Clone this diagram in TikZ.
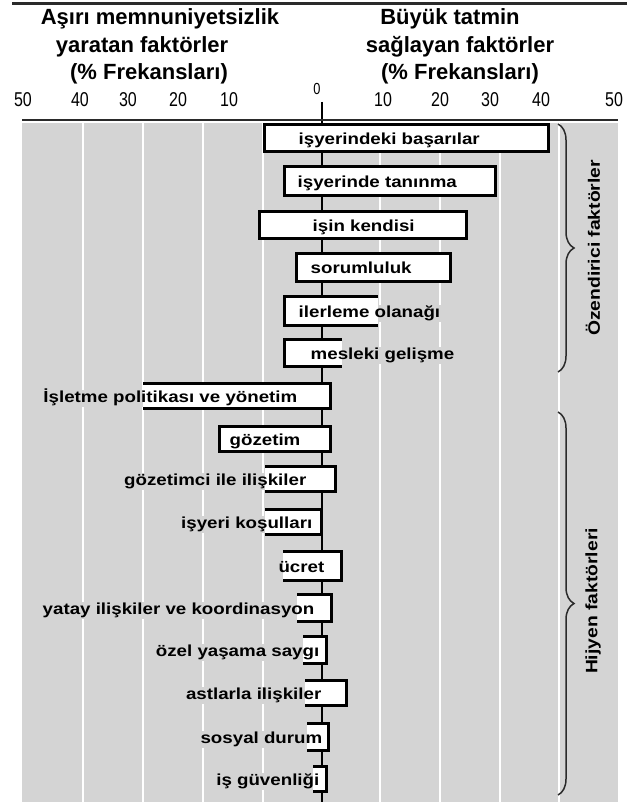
\documentclass[tikz,border=0pt]{standalone}
\usepackage{fontspec}
\setmainfont{Liberation Sans}
\newfontfamily\barfont[FakeStretch=1.17]{Liberation Sans}
\newfontfamily\numfont[FakeStretch=0.8]{Liberation Sans}
\usetikzlibrary{decorations.pathreplacing,backgrounds}
\definecolor{panel}{HTML}{D4D4D4}
\definecolor{rule}{HTML}{2A2A2A}

% bar with all four sides outlined
\newcommand\barclosed[4]{\draw[barbox] (#1+1.5,#3+1.5) rectangle (#2-1.5,#4-1.5);}
% bar whose left side is left open
\newcommand\baropenleft[4]{%
  \fill[white] (#1,#3+1.5) rectangle (#2,#4-1.5);
  \draw[barline] (#1,#3+1.5) -- (#2-1.5,#3+1.5) -- (#2-1.5,#4-1.5) -- (#1,#4-1.5);}
% bar whose right side is left open
\newcommand\baropenright[4]{%
  \fill[white] (#1,#3+1.5) rectangle (#2,#4-1.5);
  \draw[barline] (#2,#3+1.5) -- (#1+1.5,#3+1.5) -- (#1+1.5,#4-1.5) -- (#2,#4-1.5);}

\begin{document}
\begin{tikzpicture}[x=1pt,y=-1pt,
  head/.style={font=\fontsize{22}{26}\selectfont\bfseries,anchor=base,inner sep=0},
  num/.style={font=\numfont\fontsize{20}{24}\selectfont,anchor=base,inner sep=0},
  barlabel/.style={font=\barfont\bfseries\fontsize{16}{19}\selectfont,inner sep=0.5pt,
    text height=11.5pt,text depth=3.5pt,yshift=-2.5pt},
  mot/.style={barlabel,anchor=west},
  hyg/.style={barlabel,anchor=east},
  barbox/.style={line width=3pt,fill=white,draw=black},
  barline/.style={line width=3pt,draw=black},
  gridline/.style={white,line width=2.5pt},
  side/.style={font=\barfont\bfseries\fontsize{16.5}{20}\selectfont,rotate=90,inner sep=0},
  curly/.style={decorate,decoration={brace,amplitude=16pt},draw=rule,line width=1.5pt},
]
\useasboundingbox (0,0) rectangle (627,802);

% panel and grid
\begin{pgfonlayer}{background}
  \fill[panel] (22,123) rectangle (618,802);
  \foreach \gx in {83,143,203,263,380,440,500,559}
    \draw[gridline] (\gx,123) -- (\gx,802);
\end{pgfonlayer}

% top rules
\draw[rule,line width=3pt] (12,4) -- (627,4);
\draw[rule,line width=2.5pt] (22,120) -- (618,120);

% headings
\node[head] (hl1) at (160,25) {Aşırı memnuniyetsizlik};
\node[head] (hl2) at (142,53) {yaratan faktörler};
\node[head] (hl3) at (149,80) {(\% Frekansları)};
\node[head] (hr1) at (450,25) {Büyük tatmin};
\node[head] (hr2) at (460,53) {sağlayan faktörler};
\node[head] (hr3) at (460,80) {(\% Frekansları)};

% scale
\node[num] (sl50) at (23,107) {50};
\node[num] (sl40) at (80,107) {40};
\node[num] (sl30) at (128,107) {30};
\node[num] (sl20) at (178,107) {20};
\node[num] (sl10) at (229,107) {10};
\node[num,font=\numfont\fontsize{16}{19}\selectfont] (s0) at (317,95) {0};
\node[num] (sr10) at (383,107) {10};
\node[num] (sr20) at (440,107) {20};
\node[num] (sr30) at (490,107) {30};
\node[num] (sr40) at (541,107) {40};
\node[num] (sr50) at (614,107) {50};

% zero axis
\coordinate (axtop) at (322,102);
\coordinate (axbot) at (322,802);
\begin{pgfonlayer}{background}
  \draw[black,line width=2pt] (axtop) -- (axbot);
\end{pgfonlayer}

% motivator bars
\barclosed{263}{550}{123}{153}
\barclosed{283}{497}{165}{197}
\barclosed{258}{468}{210}{240}
\barclosed{295}{452}{252}{283}
\baropenright{283}{378}{295}{327}
\baropenright{283}{342}{338}{368}

% hygiene bars
\baropenleft{143}{332}{382}{410}
\barclosed{218}{332}{425}{453}
\baropenleft{265}{337}{465}{493}
\baropenleft{265}{323}{508}{536}
\baropenleft{283}{343}{550}{582}
\baropenleft{297}{333}{593}{623}
\baropenleft{303}{328}{635}{665}
\baropenleft{305}{348}{679}{707}
\baropenleft{307}{330}{722}{752}
\baropenleft{313}{328}{765}{793}

% bar labels
\node[mot] (m1) at (298,138) {işyerindeki başarılar};
\node[mot] (m2) at (297,181) {işyerinde tanınma};
\node[mot] (m3) at (312,225) {işin kendisi};
\node[mot] (m4) at (310,267) {sorumluluk};
\node[mot] (m5) at (298,311) {ilerleme olanağı};
\node[mot] (m6) at (310,353) {mesleki gelişme};

\node[hyg] (h1) at (298,396) {İşletme politikası ve yönetim};
\node[barlabel] (h2) at (265,439) {gözetim};
\node[hyg] (h3) at (307,479) {gözetimci ile ilişkiler};
\node[hyg] (h4) at (313,522) {işyeri koşulları};
\node[hyg] (h5) at (325,566) {ücret};
\node[hyg] (h6) at (315,608) {yatay ilişkiler ve koordinasyon};
\node[hyg] (h7) at (320,650) {özel yaşama saygı};
\node[hyg] (h8) at (322,693) {astlarla ilişkiler};
\node[hyg] (h9) at (323,737) {sosyal durum};
\node[hyg] (h10) at (320,779) {iş güvenliği};

% labels sit on plain panel, covering the grid lines
\begin{pgfonlayer}{background}
  \foreach \n in {m5,m6,h1,h2,h3,h4,h5,h6,h7,h8,h9,h10}
    \fill[panel] (\n.south west) rectangle (\n.north east);
\end{pgfonlayer}

% group braces
\coordinate (b1a) at (558,124);
\coordinate (b1b) at (558,372);
\coordinate (b2a) at (558,412);
\coordinate (b2b) at (558,795);
\draw[curly] (b1a) -- (b1b);
\draw[curly] (b2a) -- (b2b);
\node[side] (g1) at (593,248) {Özendirici faktörler};
\node[side] (g2) at (593,601) {Hijyen faktörleri};
\end{tikzpicture}
\end{document}
